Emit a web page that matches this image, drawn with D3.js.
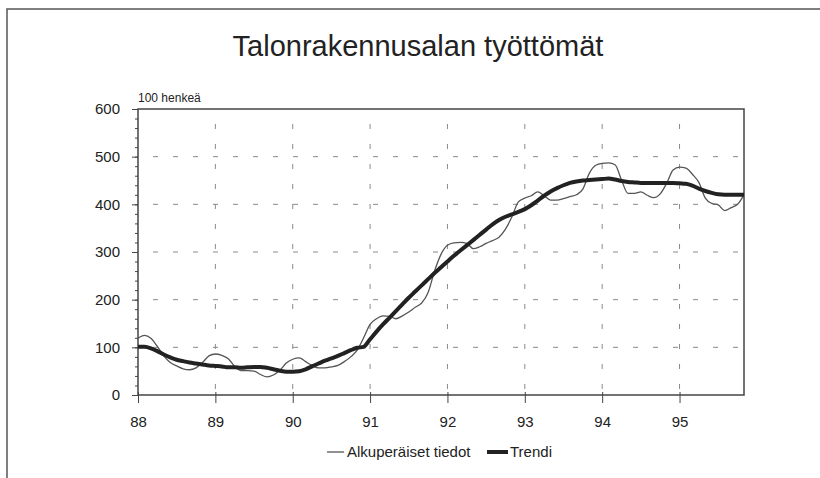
<!DOCTYPE html>
<html>
<head>
<meta charset="utf-8">
<script src="https://cdn.jsdelivr.net/npm/d3@7"></script>
<style>
  body{margin:0;background:#fff;}
  svg{display:block;font-family:"Liberation Sans",Arial,sans-serif;}
</style>
</head>
<body>
<svg id="chart" width="820" height="478"></svg>
<script>
// kuukausittaiset tiedot, tammikuu 1988 - marraskuu 1995 (100 henkeä)
const startYear = 88
const alku = [119,125,119,102,82,68,61,55,53,57,68,82,
  86,83,76,60,51,51,50,43,38,42,52,67,
  75,78,70,62,57,57,59,62,70,80,94,120,
  148,160,166,165,160,166,174,184,193,215,260,295,
  314,319,320,318,307,311,318,324,331,348,374,405,
  413,418,426,418,409,409,412,416,420,432,465,482,
  486,487,483,451,423,423,426,419,414,422,444,472,
  478,476,463,446,413,402,399,387,393,400,420]
const trendi = [101,101,98,92,85,79,74,71,68,66,64,62,
  61,60,58,58,57,58,59,59,57,54,51,49,
  49,50,54,60,66,72,77,82,88,94,99,101,
  117,133,148,162,176,190,204,217,230,243,256,268,
  280,292,303,314,325,336,347,358,367,374,379,384,
  390,398,408,418,427,434,440,445,448,450,451,452,
  453,454,452,449,447,446,445,445,445,445,445,445,
  444,443,439,433,428,424,421,420,420,420,420]
const yearTicks = [88,89,90,91,92,93,94,95]
const yTicks = [0,100,200,300,400,500,600]
const yMinor = d3.range(0,601,20)
const title = 'Talonrakennusalan työttömät'
const unit = '100 henkeä'
const legendNames = ['Alkuperäiset tiedot','Trendi']

const svg = d3.select('#chart')
const pLeft = 138, pRight = 744, pTop = 109, pBottom = 395

const xScale = d3.scaleLinear()
  .domain([startYear, startYear + (alku.length-1)/12])
  .range([pLeft,pRight])
const yScale = d3.scaleLinear()
  .domain([0,600])
  .range([pBottom,pTop])

// ulkokehys
svg.append('path')
  .attr('d','M7,480 L7,9 L822,9')
  .attr('fill','none')
  .attr('stroke','#555')
  .attr('stroke-width',1.5)

svg.append('text')
  .attr('x',418).attr('y',56)
  .attr('text-anchor','middle')
  .attr('font-size',29)
  .attr('fill','#222')
  .text(title)

// apuviivat
svg.append('g')
  .selectAll('line')
  .data(yTicks.filter(d=>d>0 && d<600))
  .join('line')
  .attr('x1',pLeft).attr('x2',pRight)
  .attr('y1',d=>yScale(d)).attr('y2',d=>yScale(d))
  .attr('stroke','#8a8a8a')
  .attr('stroke-dasharray','5,15')
  .attr('stroke-dashoffset',5)

svg.append('g')
  .selectAll('line')
  .data(yearTicks.filter(d=>d>startYear))
  .join('line')
  .attr('x1',d=>xScale(d)).attr('x2',d=>xScale(d))
  .attr('y1',pTop).attr('y2',pBottom)
  .attr('stroke','#8a8a8a')
  .attr('stroke-dasharray','5,15')
  .attr('stroke-dashoffset',5)

// akselit
const yAxisMinor = d3.axisLeft(yScale).tickValues(yMinor).tickSize(3).tickFormat('')
svg.append('g')
  .attr('transform',`translate(${pLeft},0)`)
  .call(yAxisMinor)
  .call(g=>g.select('.domain').remove())
  .selectAll('line').attr('stroke','#444')

const yAxis = d3.axisLeft(yScale).tickValues(yTicks).tickSize(6).tickPadding(12)
svg.append('g')
  .attr('transform',`translate(${pLeft},0)`)
  .call(yAxis)
  .call(g=>g.select('.domain').remove())
  .call(g=>g.selectAll('line').attr('stroke','#444'))
  .selectAll('text')
  .attr('font-size',15)
  .attr('font-family','"Liberation Sans",Arial,sans-serif')
  .attr('fill','#222')

const xAxis = d3.axisBottom(xScale).tickValues(yearTicks).tickSize(8).tickPadding(13).tickFormat(d=>d)
svg.append('g')
  .attr('transform',`translate(0,${pBottom})`)
  .call(xAxis)
  .call(g=>g.select('.domain').remove())
  .call(g=>g.selectAll('line').attr('y1',-3).attr('stroke','#444'))
  .selectAll('text')
  .attr('font-size',15)
  .attr('font-family','"Liberation Sans",Arial,sans-serif')
  .attr('fill','#222')

svg.append('rect')
  .attr('x',pLeft).attr('y',pTop)
  .attr('width',pRight-pLeft).attr('height',pBottom-pTop)
  .attr('fill','none')
  .attr('stroke','#444')
  .attr('stroke-width',1.5)

svg.append('text')
  .attr('x',pLeft).attr('y',102)
  .attr('font-size',12)
  .attr('fill','#222')
  .text(unit)

// viivat
const line = d3.line()
  .x((d,i)=>xScale(startYear + i/12))
  .y(d=>yScale(d))
  .curve(d3.curveMonotoneX)

svg.append('path')
  .datum(alku)
  .attr('d',line)
  .attr('fill','none')
  .attr('stroke','#555')
  .attr('stroke-width',1.3)

svg.append('path')
  .datum(trendi)
  .attr('d',line)
  .attr('fill','none')
  .attr('stroke','#222')
  .attr('stroke-width',4)

// selite
const lg = svg.append('g').attr('transform','translate(0,452)')
lg.append('line').attr('x1',327).attr('x2',344).attr('stroke','#555').attr('stroke-width',1.3)
lg.append('text').attr('x',347).attr('y',5).attr('font-size',15).attr('fill','#222').text(legendNames[0])
lg.append('line').attr('x1',487).attr('x2',508).attr('stroke','#222').attr('stroke-width',4)
lg.append('text').attr('x',510).attr('y',5).attr('font-size',15).attr('fill','#222').text(legendNames[1])
</script>
</body>
</html>
